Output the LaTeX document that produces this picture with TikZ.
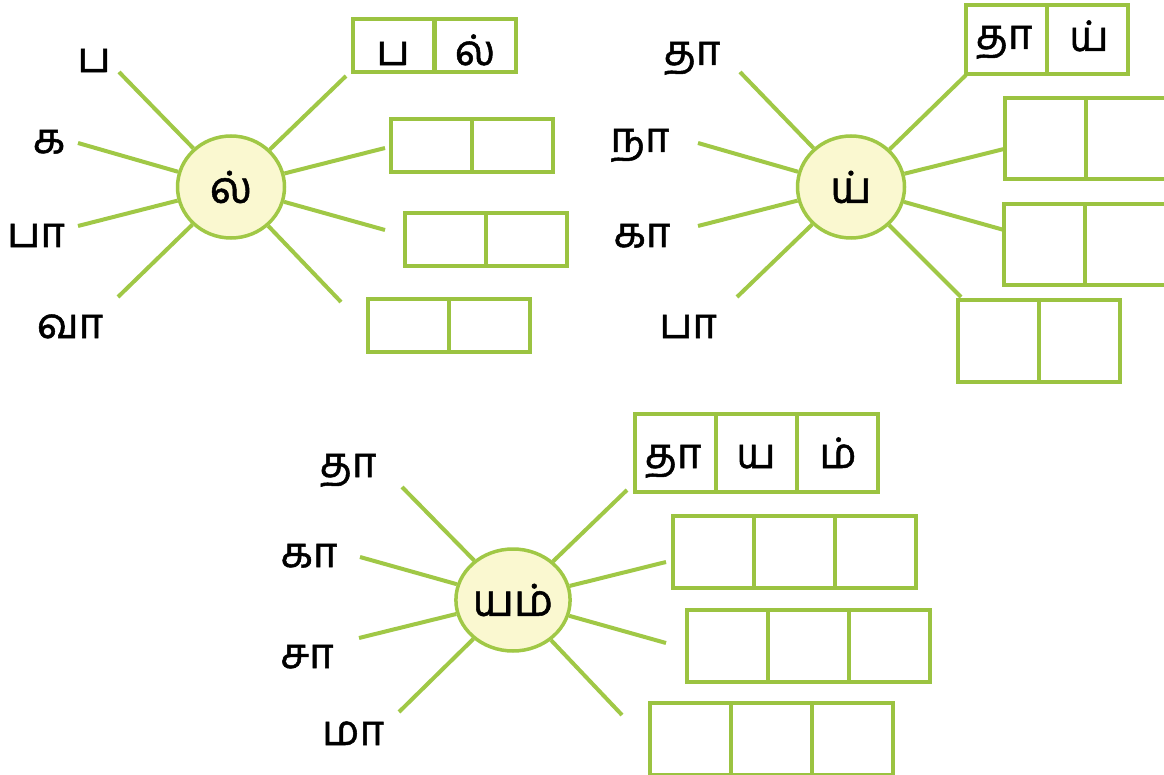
\documentclass[tikz,border=0pt]{standalone}
\usepackage{fontspec}
\newfontfamily\tamil[Script=Tamil,FakeBold=1.2]{Hind Madurai}
\usetikzlibrary{shapes.geometric}
\definecolor{ray}{RGB}{160,200,70}
\definecolor{boxg}{RGB}{155,195,65}
\definecolor{sunfill}{RGB}{250,248,208}
\tikzset{
  lbl/.style={font=\tamil\fontsize{42}{46}\selectfont, inner sep=0pt, anchor=base},
  sun/.style={ellipse, draw=ray, line width=3.5pt, fill=sunfill, minimum width=107, minimum height=102, inner sep=0pt, font=\tamil\fontsize{44}{48}\selectfont},
  rayline/.style={draw=ray, line width=4pt},
  cell/.style={rectangle, draw=boxg, line width=4pt, inner sep=0pt},
  c1/.style={cell, minimum width=81, minimum height=53},
  c2/.style={cell, minimum width=81, minimum height=81},
  c2t/.style={cell, minimum width=81, minimum height=69},
  c3/.style={cell, minimum width=81, minimum height=72},
  c3t/.style={cell, minimum width=81, minimum height=78}
}
\begin{document}
\begin{tikzpicture}[x=1pt,y=-1pt]
\useasboundingbox (0,0) rectangle (1164,775);
\clip (0,0) rectangle (1164,775);
\fill[white] (0,0) rectangle (1164,775);

% ---------- Panel 1 ----------
\node[sun] (S1) at (231,187) {ல்};
\coordinate (p1a) at (119,72);
\coordinate (p1b) at (78,143);
\coordinate (p1c) at (78,226);
\coordinate (p1d) at (118,297);
\coordinate (p1e) at (346,76);
\coordinate (p1f) at (385,148);
\coordinate (p1g) at (385,230);
\coordinate (p1h) at (341,302);
\foreach \p in {p1a,p1b,p1c,p1d,p1e,p1f,p1g,p1h} \draw[rayline] (\p) -- (S1);
\node[lbl] (l1a) at (94,72) {ப};
\node[lbl] (l1b) at (49,153) {க};
\node[lbl] (l1c) at (36,247) {பா};
\node[lbl] (l1d) at (70,338) {வா};
% boxes
\node[c1] (b1a1) at (393,45.5) {};
\node[c1] (b1a2) at (475,45.5) {};
\node[lbl] (t1a1) at (393,65) {ப};
\node[lbl] (t1a2) at (475,65) {ல்};
\node[c1] (b1b1) at (431.5,146) {};
\node[c1] (b1b2) at (512.5,146) {};
\node[c1] (b1c1) at (445.5,239.5) {};
\node[c1] (b1c2) at (526.5,239.5) {};
\node[c1] (b1d1) at (408.5,325.5) {};
\node[c1] (b1d2) at (489.5,325.5) {};

% ---------- Panel 2 ----------
\node[sun] (S2) at (851,187) {ய்};
\coordinate (p2a) at (740,72);
\coordinate (p2b) at (698,143);
\coordinate (p2c) at (698,226);
\coordinate (p2d) at (737,297);
\coordinate (p2e) at (966,75);
\coordinate (p2f) at (1004,149);
\coordinate (p2g) at (1004,230);
\coordinate (p2h) at (961,297);
\foreach \p in {p2a,p2b,p2c,p2d,p2e,p2f,p2g,p2h} \draw[rayline] (\p) -- (S2);
\node[lbl] (l2a) at (692,65) {தா};
\node[lbl] (l2b) at (640,152) {நா};
\node[lbl] (l2c) at (642,247) {கா};
\node[lbl] (l2d) at (688,338) {பா};
\node[c2t] (b2a1) at (1006,39.5) {};
\node[c2t] (b2a2) at (1087,39.5) {};
\node[lbl] (t2a1) at (1004,49) {தா};
\node[lbl] (t2a2) at (1089,51) {ய்};
\node[c2] (b2b1) at (1045.5,139) {};
\node[c2] (b2b2) at (1126.5,139) {};
\node[c2] (b2c1) at (1044.5,244.5) {};
\node[c2] (b2c2) at (1125.5,244.5) {};
\node[c2] (b2d1) at (998.5,341) {};
\node[c2] (b2d2) at (1079.5,341) {};

% ---------- Panel 3 ----------
\node[sun] (S3) at (513,600) {யம்};
\coordinate (p3a) at (402,487);
\coordinate (p3b) at (360,557);
\coordinate (p3c) at (359,638);
\coordinate (p3d) at (399,712);
\coordinate (p3e) at (627,490);
\coordinate (p3f) at (666,562);
\coordinate (p3g) at (666,643);
\coordinate (p3h) at (622,715);
\foreach \p in {p3a,p3b,p3c,p3d,p3e,p3f,p3g,p3h} \draw[rayline] (\p) -- (S3);
\node[lbl] (l3a) at (348,477) {தா};
\node[lbl] (l3b) at (309,567) {கா};
\node[lbl] (l3c) at (307,668) {சா};
\node[lbl] (l3d) at (353,745) {மா};
\node[c3t] (b3a1) at (675,453) {};
\node[c3t] (b3a2) at (756,453) {};
\node[c3t] (b3a3) at (837,453) {};
\node[lbl] (t3a1) at (673,468) {தா};
\node[lbl] (t3a2) at (756,468) {ய};
\node[lbl] (t3a3) at (838,468) {ம்};
\node[c3] (b3b1) at (713,552) {};
\node[c3] (b3b2) at (794,552) {};
\node[c3] (b3b3) at (875,552) {};
\node[c3] (b3c1) at (727.5,646) {};
\node[c3] (b3c2) at (808.5,646) {};
\node[c3] (b3c3) at (889.5,646) {};
\node[c3] (b3d1) at (690,738.5) {};
\node[c3] (b3d2) at (771,738.5) {};
\node[c3] (b3d3) at (852,738.5) {};
\end{tikzpicture}
\end{document}
